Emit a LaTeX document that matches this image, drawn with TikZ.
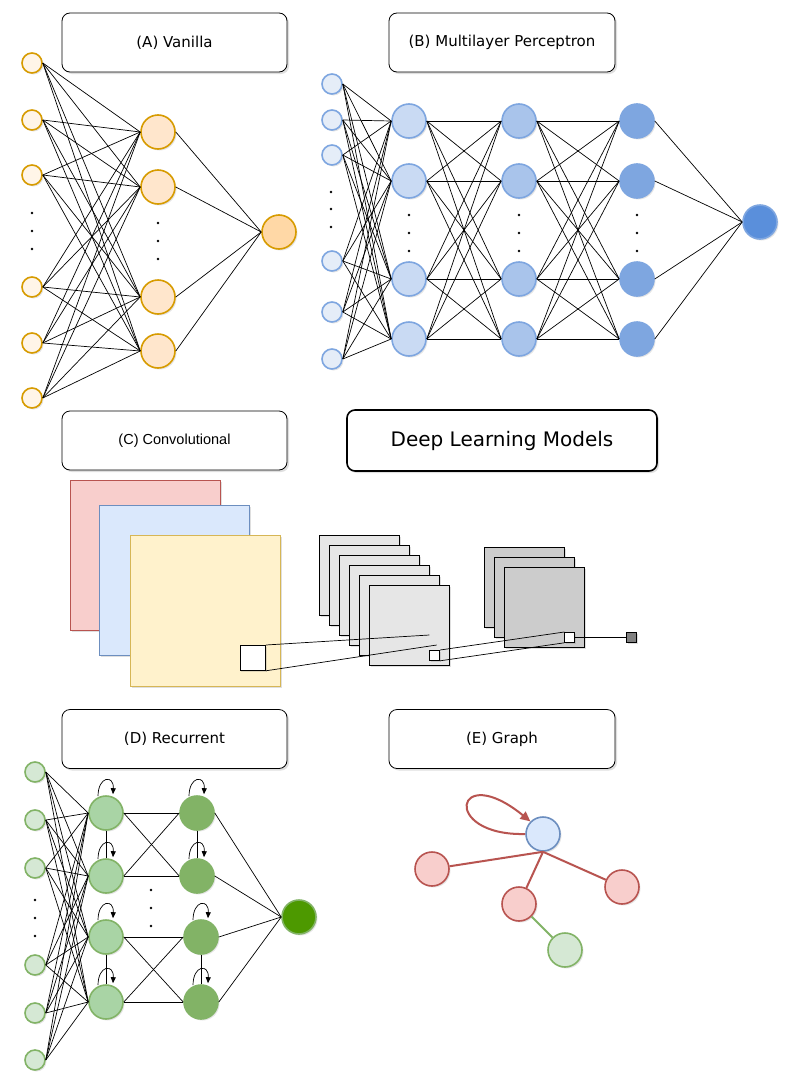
\documentclass[tikz,border=0pt]{standalone}
\usepackage{fontspec}
\setmainfont{DejaVu Sans}
\newfontfamily\helvfont{Liberation Sans}
\usepackage{tikz}
\usetikzlibrary{arrows.meta,calc,positioning,shadows,shapes}

\definecolor{vanline}{HTML}{D79B00}
\definecolor{vanin}{HTML}{FFF5E8}
\definecolor{vanhid}{HTML}{FFE6CC}
\definecolor{vanout}{HTML}{FFD8A6}
\definecolor{mlpline}{HTML}{7EA6E0}
\definecolor{mlpin}{HTML}{E5EDF8}
\definecolor{mlp1}{HTML}{C9DAF3}
\definecolor{mlp2}{HTML}{A9C4EB}
\definecolor{mlp3}{HTML}{7EA6E0}
\definecolor{mlpout}{HTML}{5A8FDB}
\definecolor{mlpdark}{HTML}{6C8EBF}
\definecolor{recline}{HTML}{82B366}
\definecolor{recin}{HTML}{D5E8D4}
\definecolor{reca}{HTML}{A9D4A5}
\definecolor{recb}{HTML}{82B366}
\definecolor{recout}{HTML}{4D9900}
\definecolor{redfill}{HTML}{F8CECC}
\definecolor{redline}{HTML}{B85450}
\definecolor{bluefill}{HTML}{DAE8FC}
\definecolor{blueline}{HTML}{6C8EBF}
\definecolor{yellowfill}{HTML}{FFF2CC}
\definecolor{yellowline}{HTML}{D6B656}
\definecolor{greyfill}{HTML}{E6E6E6}
\definecolor{darkfill}{HTML}{CCCCCC}
\definecolor{patchfill}{HTML}{808080}

\begin{document}
\begin{tikzpicture}[x=1pt, y=-1pt,
	title/.style={draw, rounded corners=8pt, fill=white, line width=0.8pt, minimum width=225pt, minimum height=59pt, font=\fontsize{15}{18}\selectfont, drop shadow={opacity=0.25, shadow xshift=2pt, shadow yshift=-2pt}},
	unit/.style={circle, inner sep=0pt, line width=1.6pt, drop shadow={opacity=0.2, shadow xshift=1.5pt, shadow yshift=-1.5pt}},
	small/.style={unit, minimum size=20pt},
	big/.style={unit, minimum size=34pt},
	dot/.style={circle, fill=black, inner sep=0pt, minimum size=2.6pt},
	link/.style={line width=0.7pt},
	sheet/.style={rectangle, inner sep=0pt, anchor=north west, line width=0.8pt, drop shadow={opacity=0.25, shadow xshift=1.5pt, shadow yshift=-1.5pt}},
	graphlink/.style={line width=2pt, draw=redline}]
	\useasboundingbox (0,0) rectangle (798,1092);
	\fill[white] (0,0) rectangle (798,1092);

	% Place nodes
	\node [title] (vantitle) at (174.5,42.5) {(A) Vanilla};
	\node [title, minimum width=226pt] (mlptitle) at (502,42.5) {(B) Multilayer Perceptron};
	\node [title, font=\helvfont\fontsize{14.5}{17}\selectfont] (convtitle) at (174.5,440.5) {(C) Convolutional};
	\node [title, minimum width=310pt, minimum height=61pt, line width=1.6pt, font=\fontsize{20}{24}\selectfont] (maintitle) at (502,440.5) {Deep Learning Models};
	\node [title] (rectitle) at (174.5,739) {(D) Recurrent};
	\node [title, minimum width=226pt] (graphtitle) at (502,739) {(E) Graph};

	% (A) vanilla network
	\foreach \y [count=\i] in {63,120,175,287,343,398}
		\node [small, draw=vanline, fill=vanin] (vi\i) at (32,\y) {};
	\foreach \y [count=\i] in {132,187,297,351}
		\node [big, draw=vanline, fill=vanhid] (vh\i) at (158,\y) {};
	\node [big, draw=vanline, fill=vanout] (vo) at (279,232) {};
	\foreach \y [count=\i] in {213,231,249}
		\node [dot] (vid\i) at (32,\y) {};
	\foreach \y [count=\i] in {223,241,259}
		\node [dot] (vhd\i) at (158,\y) {};
	\foreach \i in {1,...,6}
		\foreach \j in {1,...,4}
			\draw [link] (vi\i.east) -- (vh\j.west);
	\foreach \j in {1,...,4}
		\draw [link] (vh\j.east) -- (vo.west);

	% (B) multilayer perceptron
	\foreach \y [count=\i] in {84,120,155,261,312,359}
		\node [small, draw=mlpline, fill=mlpin] (mi\i) at (332,\y) {};
	\foreach \y [count=\i] in {192,209,227}
		\node [dot] (mid\i) at (331,\y) {};
	\foreach \x [count=\l] in {409,519,637} {
		\foreach \y [count=\i] in {121,181,279,339}
			\node [big, draw=mlpline, fill=mlp\l] (m\l-\i) at (\x,\y) {};
		\foreach \y [count=\i] in {215,233,251}
			\node [dot] (md\l-\i) at (\x,\y) {};
	}
	\node [big, draw=mlpline, fill=mlpout] (mo) at (760,222) {};
	\foreach \i in {1,...,6}
		\foreach \j in {1,...,4}
			\draw [link] (mi\i.east) -- (m1-\j.west);
	\foreach \l/\k in {1/2,2/3}
		\foreach \i in {1,...,4}
			\foreach \j in {1,...,4}
				\draw [link] (m\l-\i.east) -- (m\k-\j.west);
	\foreach \i in {1,...,4}
		\draw [link] (m3-\i.east) -- (mo.west);

	% (C) convolutional
	\node [sheet, draw=redline, fill=redfill, minimum width=150pt, minimum height=150pt] (redmap) at (70,480) {};
	\node [sheet, draw=blueline, fill=bluefill, minimum width=150pt, minimum height=150pt] (bluemap) at (99,505) {};
	\node [sheet, draw=yellowline, fill=yellowfill, minimum width=150pt, minimum height=151pt] (yellowmap) at (130,535) {};
	\node [sheet, draw=black, fill=white, minimum width=25.5pt, minimum height=25pt, drop shadow={opacity=0}] (bigpatch) at (239.5,645) {};
	\foreach \k in {0,...,5}
		\node [sheet, draw=black, fill=greyfill, minimum size=80pt] (lmap\k) at (319.3+10*\k,535+10*\k) {};
	\node [sheet, draw=black, fill=white, minimum size=10pt] (lpatch) at (429.3,650) {};
	\foreach \k in {0,...,2}
		\node [sheet, draw=black, fill=darkfill, minimum size=80pt] (dmap\k) at (484.3+10*\k,547+10*\k) {};
	\node [sheet, draw=black, fill=white, minimum size=10pt] (dpatch) at (564.3,632) {};
	\node [sheet, draw=black, fill=patchfill, minimum size=10pt] (outpatch) at (626,632) {};
	\coordinate (convend1) at (429.3,635);
	\coordinate (convend2) at (436.7,645);
	\draw [link] (bigpatch.north east) -- (convend1);
	\draw [link] (bigpatch.south east) -- (convend2);
	\draw [link] (lpatch.north east) -- (dpatch.north west);
	\draw [link] (lpatch.south east) -- (dpatch.south west);
	\draw [link] (dpatch.east) -- (outpatch.west);

	% (D) recurrent
	\foreach \y [count=\i] in {772,820,868,965,1013,1060}
		\node [small, draw=recline, fill=recin] (ri\i) at (35,\y) {};
	\foreach \y [count=\i] in {900,918,936}
		\node [dot] (rid\i) at (35,\y) {};
	\foreach \y [count=\i] in {813,876,937,1002}
		\node [big, draw=recline, fill=reca] (ra\i) at (106,\y) {};
	\foreach \x/\y [count=\i] in {197/813,197/876,201/937,201/1002}
		\node [big, draw=recline, fill=recb] (rb\i) at (\x,\y) {};
	\foreach \y [count=\i] in {890,908,926}
		\node [dot] (rmd\i) at (151,\y) {};
	\node [big, draw=recline, fill=recout] (ro) at (299,917) {};
	\foreach \i in {1,...,6}
		\foreach \j in {1,...,4}
			\draw [link] (ri\i.east) -- (ra\j.west);
	\foreach \i/\j in {1/1,1/2,2/1,2/2,3/3,3/4,4/3,4/4}
		\draw [link] (ra\i.east) -- (rb\j.west);
	\foreach \i in {1,...,4}
		\draw [link] (rb\i.east) -- (ro.west);
	\foreach \i/\j in {1/2,3/4} {
		\draw [link] (ra\i.south) -- (ra\j.north);
		\draw [link] (rb\i.south) -- (rb\j.north);
	}
	\foreach \n in {ra1,ra2,ra3,ra4,rb1,rb2,rb3,rb4}
		\draw [link, -{Triangle[length=6pt, width=5pt]}] ($(\n.north)+(-8,1)$) .. controls +(0,-20) and +(1,-20) .. ($(\n.north)+(7,-1)$);

	% (E) graph
	\node [big, draw=blueline, fill=bluefill] (gcentre) at (543,834) {};
	\node [big, draw=redline, fill=redfill] (gleft) at (432,869) {};
	\node [big, draw=redline, fill=redfill] (gmid) at (519,904) {};
	\node [big, draw=redline, fill=redfill] (gright) at (622,887) {};
	\node [big, draw=recline, fill=recin] (gleaf) at (565,950) {};
	\draw [graphlink] (gcentre.south) -- (gleft);
	\draw [graphlink] (gcentre.south) -- (gmid);
	\draw [graphlink] (gcentre.south) -- (gright);
	\draw [graphlink, draw=recline] (gmid) -- (gleaf);
	\draw [graphlink, -{Triangle[length=10pt, width=9pt]}] (gcentre.west) .. controls (440,836) and (455,760) .. (gcentre.north west);
\end{tikzpicture}
\end{document}
